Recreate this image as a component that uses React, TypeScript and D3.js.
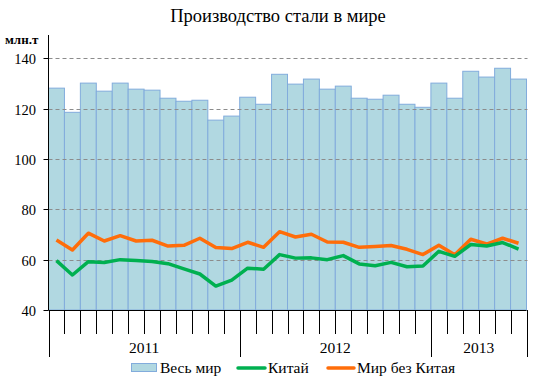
import React, { useEffect, useRef } from 'react';
import * as d3 from 'd3';

const years = ['2011', '2012', '2013'];
const monthsPerYear = [12, 12, 6];

const world = [
  128.1, 118.5, 130.1, 126.9, 130.1, 127.7, 127.3, 124.1, 122.9, 123.3, 115.4, 117.0,
  124.5, 121.7, 133.6, 129.7, 131.7, 127.7, 128.9, 124.1, 123.7, 125.3, 121.7, 120.5,
  130.1, 124.1, 134.8, 132.5, 136.0, 131.7,
];
const china = [
  59.6, 53.9, 59.2, 58.9, 60.0, 59.7, 59.3, 58.4, 56.3, 54.3, 49.5, 51.9,
  56.6, 56.2, 62.0, 60.6, 60.7, 60.0, 61.6, 58.3, 57.6, 58.9, 57.2, 57.5,
  63.3, 61.3, 66.0, 65.4, 66.8, 64.2,
];
const worldExChina = [
  67.8, 63.8, 70.5, 67.4, 69.5, 67.4, 67.7, 65.4, 65.7, 68.5, 64.8, 64.4,
  66.9, 64.9, 71.1, 69.0, 70.1, 67.0, 66.9, 64.9, 65.2, 65.6, 64.1, 62.0,
  65.7, 61.9, 68.1, 66.2, 68.5, 66.5,
];
const yTicks = [40, 60, 80, 100, 120, 140];

const BAR_FILL = '#b1d8e1';
const BAR_STROKE = '#82acdc';
const GREEN = '#00b050';
const ORANGE = '#ff6d0a';
const FONT = '"Liberation Serif", "DejaVu Serif", serif';

const App: React.FC = () => {
  const ref = useRef<SVGSVGElement | null>(null);

  useEffect(() => {
    const svg = d3.select(ref.current);
    svg.selectAll('*').remove();

    const left = 48.5;
    const right = 526.5;
    const top = 33;
    const bottom = 310;

    const idx = world.map((_, i) => i);
    const x = d3.scaleBand<number>().domain(idx).range([left, right]).padding(0);
    const y = d3.scaleLinear().domain([40, 150]).range([bottom, top]);

    svg
      .append('text')
      .attr('x', 278)
      .attr('y', 22)
      .attr('text-anchor', 'middle')
      .attr('font-family', FONT)
      .attr('font-size', 18.5)
      .text('Производство стали в мире');

    svg
      .append('text')
      .attr('x', 5)
      .attr('y', 44)
      .attr('font-family', FONT)
      .attr('font-size', 13)
      .attr('font-weight', 'bold')
      .text('млн.т');

    // watermark
    const wm = svg.append('g').attr('opacity', 0.06).attr('fill', '#3a6070');
    wm.append('circle').attr('cx', 192).attr('cy', 147).attr('r', 14).attr('fill', 'none').attr('stroke', '#3a6070').attr('stroke-width', 7);
    wm.append('rect').attr('x', 172).attr('y', 172).attr('width', 40).attr('height', 5);
    wm.append('text').attr('x', 216).attr('y', 167).attr('font-family', 'Arial, sans-serif').attr('font-size', 40).text('Rusmet');

    svg
      .append('g')
      .selectAll('rect')
      .data(world)
      .enter()
      .append('rect')
      .attr('x', (_, i) => x(i)!)
      .attr('y', (d) => y(d))
      .attr('width', x.bandwidth())
      .attr('height', (d) => bottom - y(d))
      .attr('fill', BAR_FILL)
      .attr('stroke', BAR_STROKE)
      .attr('stroke-width', 1);

    // grid
    svg
      .append('g')
      .selectAll('line')
      .data(yTicks.filter((t) => t > 40))
      .enter()
      .append('line')
      .attr('x1', left)
      .attr('x2', right + 1)
      .attr('y1', (d) => Math.round(y(d)) + 0.5)
      .attr('y2', (d) => Math.round(y(d)) + 0.5)
      .attr('stroke', '#8c8c8c')
      .attr('stroke-dasharray', '4,3');

    const line = (vals: number[]) =>
      d3
        .line<number>()
        .x((_, i) => x(i)! + x.bandwidth() / 2)
        .y((d) => y(d))(vals);

    svg.append('path').attr('d', line(worldExChina)).attr('fill', 'none').attr('stroke', ORANGE).attr('stroke-width', 3.5).attr('stroke-linejoin', 'round');
    svg.append('path').attr('d', line(china)).attr('fill', 'none').attr('stroke', GREEN).attr('stroke-width', 3.5).attr('stroke-linejoin', 'round');

    // y axis
    svg.append('line').attr('x1', left).attr('x2', left).attr('y1', top + 2).attr('y2', bottom).attr('stroke', '#000');
    const ya = svg.append('g');
    yTicks.forEach((t) => {
      const yy = Math.round(y(t)) + 0.5;
      ya.append('line').attr('x1', left - 5).attr('x2', left).attr('y1', yy).attr('y2', yy).attr('stroke', '#000');
      ya.append('text')
        .attr('x', 36)
        .attr('y', yy + 5)
        .attr('text-anchor', 'end')
        .attr('font-family', FONT)
        .attr('font-size', 14.5)
        .text(t);
    });

    // x axis
    svg.append('line').attr('x1', left).attr('x2', right).attr('y1', bottom + 0.5).attr('y2', bottom + 0.5).attr('stroke', '#000');
    const xa = svg.append('g');
    let start = 0;
    const boundaries: number[] = [0];
    monthsPerYear.forEach((m) => {
      start += m;
      boundaries.push(start);
    });
    for (let i = 0; i <= world.length; i++) {
      const xx = Math.round(i < world.length ? x(i)! : right) + 0.5;
      const isYear = boundaries.includes(i);
      xa.append('line')
        .attr('x1', xx)
        .attr('x2', xx)
        .attr('y1', bottom)
        .attr('y2', isYear ? 357 : 334)
        .attr('stroke', '#000');
    }
    years.forEach((yr, k) => {
      const x0 = boundaries[k] < world.length ? x(boundaries[k])! : right;
      const x1 = boundaries[k + 1] < world.length ? x(boundaries[k + 1])! : right;
      xa.append('text')
        .attr('x', (x0 + x1) / 2)
        .attr('y', 353)
        .attr('text-anchor', 'middle')
        .attr('font-family', FONT)
        .attr('font-size', 15.5)
        .text(yr);
    });

    // legend
    const lg = svg.append('g').attr('font-family', FONT).attr('font-size', 15.5);
    lg.append('rect').attr('x', 131.5).attr('y', 363.5).attr('width', 25).attr('height', 8).attr('fill', BAR_FILL).attr('stroke', BAR_STROKE);
    lg.append('text').attr('x', 160).attr('y', 373).text('Весь мир');
    lg.append('line').attr('x1', 238).attr('x2', 265).attr('y1', 368).attr('y2', 368).attr('stroke', GREEN).attr('stroke-width', 3.5).attr('stroke-linecap', 'round');
    lg.append('text').attr('x', 268).attr('y', 373).text('Китай');
    lg.append('line').attr('x1', 328).attr('x2', 354).attr('y1', 368).attr('y2', 368).attr('stroke', ORANGE).attr('stroke-width', 3.5).attr('stroke-linecap', 'round');
    lg.append('text').attr('x', 357).attr('y', 373).text('Мир без Китая');
  }, []);

  return (
    <svg
      ref={ref}
      width={540}
      height={390}
      style={{ position: 'absolute', left: 0, top: 0, background: '#fff' }}
    />
  );
};

export default App;
